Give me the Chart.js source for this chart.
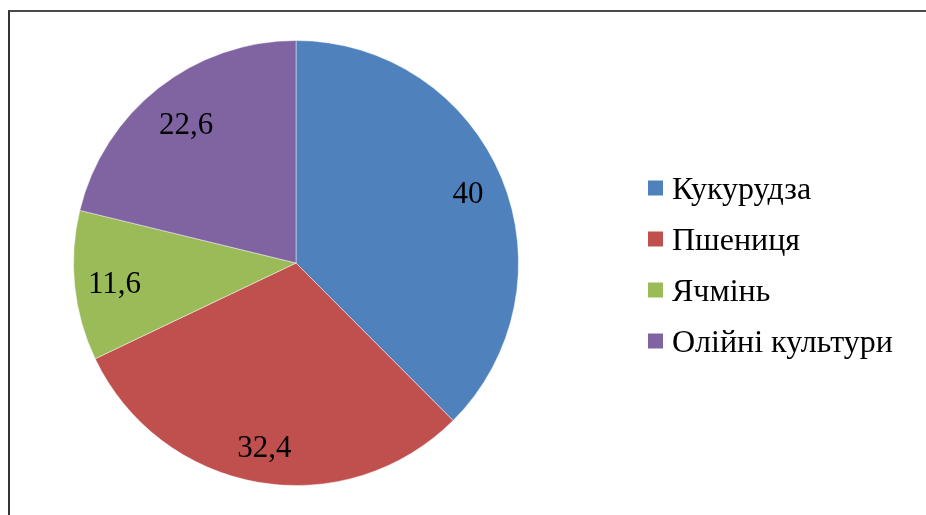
<!DOCTYPE html>
<html lang="uk">
<head>
<meta charset="utf-8">
<title>Структура посівів</title>
<script src="https://cdn.jsdelivr.net/npm/chart.js@4.4.1/dist/chart.umd.min.js"></script>
<style>
  html, body { margin: 0; padding: 0; background: #fff; }
  .wrap { position: relative; width: 926px; height: 515px; overflow: hidden; }
  /* рамка діаграми, праворуч і знизу виходить за кадр */
  .frame {
    position: absolute; left: 8px; top: 10px; width: 1000px; height: 600px;
    border-left: 2px solid #333; border-top: 2px solid #4a4a4a;
  }
  canvas { position: absolute; left: 0; top: 0; }
</style>
</head>
<body>
<div class="wrap">
  <div class="frame"></div>
  <canvas id="pie" width="926" height="515"></canvas>
</div>
<script>
// Дані діаграми
const categories  = ['Кукурудза', 'Пшениця', 'Ячмінь', 'Олійні культури'];
const shares      = [40, 32.4, 11.6, 22.6];
const sliceColors = ['#4F81BD', '#C0504D', '#9BBB59', '#8064A2'];

const serif = '"Liberation Serif", "Times New Roman", serif';

// Підписи значень всередині секторів (кома як десятковий роздільник)
const valueLabels = {
  id: 'valueLabels',
  afterDatasetsDraw(chart, args, opts) {
    const ctx  = chart.ctx;
    const meta = chart.getDatasetMeta(0);
    const data = chart.data.datasets[0].data;
    ctx.save();
    ctx.font = opts.size + 'px ' + serif;
    ctx.fillStyle = '#000';
    ctx.textAlign = 'center';
    ctx.textBaseline = 'alphabetic';
    meta.data.forEach((arc, i) => {
      const p = arc.getProps(['x', 'y', 'startAngle', 'endAngle', 'outerRadius'], true);
      const a = (p.startAngle + p.endAngle) / 2;
      const r = p.outerRadius * opts.radial[i];
      const tx = p.x + Math.cos(a) * r;
      const ty = p.y + Math.sin(a) * r + opts.size * 0.35;
      ctx.fillText(String(data[i]).replace('.', ','), tx, ty);
    });
    ctx.restore();
  }
};

// Легенда праворуч (квадратик + назва)
const sideLegend = {
  id: 'sideLegend',
  afterDraw(chart, args, opts) {
    const ctx = chart.ctx;
    const colors = chart.data.datasets[0].backgroundColor;
    ctx.save();
    ctx.font = opts.size + 'px ' + serif;
    ctx.textAlign = 'left';
    ctx.textBaseline = 'alphabetic';
    chart.data.labels.forEach((label, i) => {
      const cy = opts.top + i * opts.step;
      ctx.fillStyle = colors[i];
      ctx.fillRect(opts.left, cy - opts.box / 2, opts.box, opts.box);
      ctx.fillStyle = '#000';
      ctx.fillText(label, opts.left + opts.box + 9, cy + opts.size * 0.33);
    });
    ctx.restore();
  }
};

new Chart(document.getElementById('pie'), {
  type: 'pie',
  data: {
    labels: categories,
    datasets: [{
      data: shares,
      backgroundColor: sliceColors,
      borderColor: 'rgba(255,255,255,0.45)',
      borderWidth: 1
    }]
  },
  options: {
    responsive: false,
    animation: false,
    layout: { padding: { left: 73, right: 407, top: 40, bottom: 29 } },
    plugins: {
      legend: { display: false },
      tooltip: { enabled: false },
      valueLabels: {
        size: 31,
        radial: [0.836, 0.834, 0.82, 0.80]
      },
      sideLegend: { left: 648, top: 188, step: 51, box: 15, size: 32 }
    }
  },
  plugins: [valueLabels, sideLegend]
});
</script>
</body>
</html>
